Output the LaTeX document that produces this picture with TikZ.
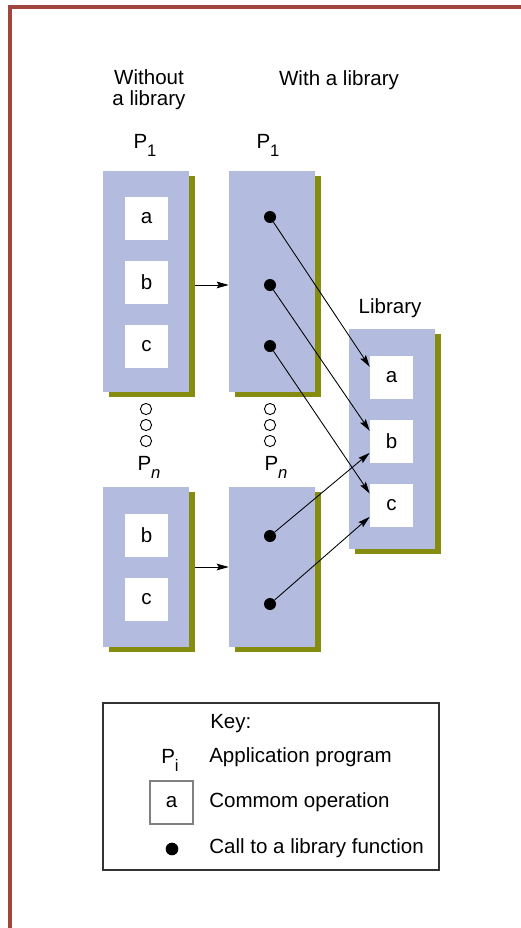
\documentclass[tikz,border=0pt]{standalone}
\usepackage{fontspec}
\setmainfont{Liberation Sans}
\usepackage{xcolor}
\usepackage{tikz}
\usetikzlibrary{shapes,arrows,positioning,calc,shadows,arrows.meta}

\definecolor{progblue}{RGB}{179,187,222}
\definecolor{shadowolive}{RGB}{133,140,16}
\definecolor{framered}{RGB}{160,70,60}

\newcommand{\Pname}[1]{P\raisebox{-6.5pt}{\fontsize{12.5}{12.5}\selectfont #1}}

\tikzset{
  progbox/.style={fill=progblue, minimum width=64.5pt, inner sep=0pt,
    general shadow={fill=shadowolive, shadow xshift=4.5pt, shadow yshift=-3.75pt}},
  opbox/.style={fill=white, minimum size=32.25pt, inner sep=0pt},
  calldot/.style={circle, fill=black, minimum size=9pt, inner sep=0pt},
  callarrow/.style={-{Stealth[length=9pt,width=5pt,inset=1.5pt]}, line width=0.65pt},
  keytext/.style={anchor=base west, inner sep=0pt},
}

\begin{document}
\begin{tikzpicture}[x=0.75pt, y=-0.75pt, font=\fontsize{15.4}{16}\selectfont]
    \useasboundingbox (0,0) rectangle (521,928);
    \draw[framered, line width=3pt] (10,928) -- (10,7) -- (521,7);

    \node[align=center, inner sep=0pt] (without) at (149,90) {Without\\a library};
    \node[anchor=base, inner sep=0pt] (withlib) at (339,85) {With a library};

    % without a library
    \node[anchor=base, inner sep=0pt] (p1plainname) at (145,148) {\Pname{1}};
    \node[progbox, minimum height=165.75pt] (p1plain) at (146,281.5) {};
    \node[opbox] (p1a) at (146.5,218.5) {a};
    \node[opbox] (p1b) at (146.5,282.5) {b};
    \node[opbox] (p1c) at (146.5,346.5) {c};

    \node[anchor=base, inner sep=0pt] (pnplainname) at (149,470) {\Pname{\textit{n}}};
    \node[progbox, minimum height=120pt] (pnplain) at (146,567) {};
    \node[opbox] (pnb) at (146.5,535.5) {b};
    \node[opbox] (pnc) at (146.5,599.5) {c};

    % with a library
    \node[anchor=base, inner sep=0pt] (p1libname) at (268,148) {\Pname{1}};
    \node[progbox, minimum height=165.75pt] (p1lib) at (272,281.5) {};
    \node[calldot] (d1) at (270,217) {};
    \node[calldot] (d2) at (270,285) {};
    \node[calldot] (d3) at (270,346) {};

    \node[anchor=base, inner sep=0pt] (pnlibname) at (276,470) {\Pname{\textit{n}}};
    \node[progbox, minimum height=120pt] (pnlib) at (272,567) {};
    \node[calldot] (dn1) at (270,536) {};
    \node[calldot] (dn2) at (270,604) {};

    \foreach \x in {146,270}
      \foreach \y in {409,425,441}
        \draw[line width=0.7pt] (\x,\y) circle (4.2pt);

    % the library
    \node[anchor=base, inner sep=0pt] (libname) at (390,313) {Library};
    \node[progbox, minimum height=165pt] (lib) at (392,439) {};
    \node[opbox] (la) at (391.5,377.5) {a};
    \node[opbox] (lb) at (391.5,441.5) {b};
    \node[opbox] (lc) at (391.5,505.5) {c};

    \draw[callarrow] ([xshift=4.5pt,yshift=-2.6pt]p1plain.east) -- ([yshift=-2.6pt]p1lib.west);
    \draw[callarrow] ([xshift=4.5pt]pnplain.east) -- (pnlib.west);

    \draw[callarrow] (d1) -- ([yshift=8pt]la.west);
    \draw[callarrow] (d2) -- ([yshift=8pt]lb.west);
    \draw[callarrow] (d3) -- ([yshift=9pt]lc.west);
    \draw[callarrow] (dn1) -- ([yshift=-8.5pt]lb.west);
    \draw[callarrow] (dn2) -- ([yshift=-8.5pt]lc.west);

    % key
    \node[draw=black!80, line width=0.8pt, minimum width=252pt, minimum height=125.25pt, inner sep=0pt] (key) at (271,786.5) {};
    \node[keytext] (keytitle) at (210,728) {Key:};
    \node[anchor=base, inner sep=0pt] (keyp) at (170,763) {\Pname{i}};
    \node[keytext] (keyptext) at (209,762) {Application program};
    \node[opbox, draw=gray, line width=0.8pt] (keyop) at (171.5,802.5) {a};
    \node[keytext] (keyoptext) at (209,807) {Commom operation};
    \node[calldot, minimum size=9.5pt] (keydot) at (172,849) {};
    \node[keytext] (keydottext) at (209,853) {Call to a library function};
\end{tikzpicture}
\end{document}
